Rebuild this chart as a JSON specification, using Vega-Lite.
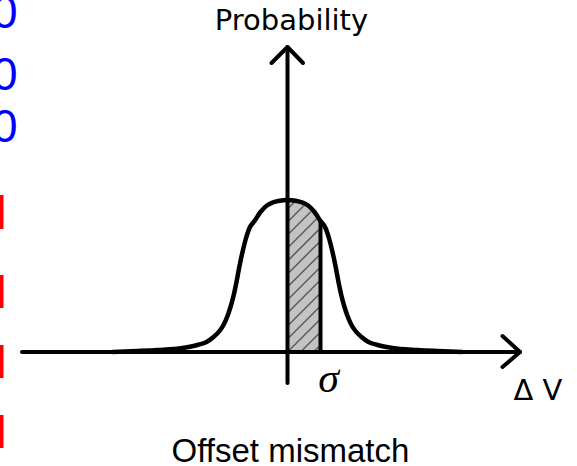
{
  "$schema": "https://vega.github.io/schema/vega-lite/v6.json",
  "width": 577,
  "height": 466,
  "autosize": {"type": "none"},
  "padding": 0,
  "background": "white",
  "config": {"view": {"stroke": null}},
  "datasets": {
    "curve": [
      {"x": -175, "y": 0}, {"x": -150, "y": 1}, {"x": -130, "y": 2}, {"x": -105, "y": 4},
      {"x": -90, "y": 7}, {"x": -81, "y": 10}, {"x": -74, "y": 15}, {"x": -68, "y": 21},
      {"x": -64, "y": 27}, {"x": -60, "y": 36}, {"x": -57, "y": 45}, {"x": -54, "y": 56},
      {"x": -51, "y": 70}, {"x": -48, "y": 86}, {"x": -45, "y": 100}, {"x": -42, "y": 112},
      {"x": -38, "y": 124}, {"x": -33, "y": 131}, {"x": -27, "y": 140}, {"x": -20, "y": 147},
      {"x": -15, "y": 149.5}, {"x": -8, "y": 151.3}, {"x": 0, "y": 152},
      {"x": 8, "y": 151.3}, {"x": 15, "y": 149.5}, {"x": 20, "y": 147}, {"x": 27, "y": 140},
      {"x": 33, "y": 131}, {"x": 38, "y": 124}, {"x": 42, "y": 112}, {"x": 45, "y": 100},
      {"x": 48, "y": 86}, {"x": 51, "y": 70}, {"x": 54, "y": 56}, {"x": 57, "y": 45},
      {"x": 60, "y": 36}, {"x": 64, "y": 27}, {"x": 68, "y": 21}, {"x": 74, "y": 15},
      {"x": 81, "y": 10}, {"x": 90, "y": 7}, {"x": 105, "y": 4}, {"x": 130, "y": 2},
      {"x": 150, "y": 1}, {"x": 175, "y": 0}
    ],
    "hatch": [
      {"x": 26, "y": 0, "x2": 33, "y2": 7},
      {"x": 13, "y": 0, "x2": 33, "y2": 20},
      {"x": 0, "y": 0, "x2": 33, "y2": 33},
      {"x": 0, "y": 13, "x2": 33, "y2": 46},
      {"x": 0, "y": 26, "x2": 33, "y2": 59},
      {"x": 0, "y": 39, "x2": 33, "y2": 72},
      {"x": 0, "y": 52, "x2": 33, "y2": 85},
      {"x": 0, "y": 65, "x2": 33, "y2": 98},
      {"x": 0, "y": 78, "x2": 33, "y2": 111},
      {"x": 0, "y": 91, "x2": 33, "y2": 124},
      {"x": 0, "y": 104, "x2": 29, "y2": 133},
      {"x": 0, "y": 117, "x2": 23, "y2": 140},
      {"x": 0, "y": 130, "x2": 16, "y2": 146},
      {"x": 0, "y": 143, "x2": 7, "y2": 150}
    ],
    "lines": [
      {"g": "h", "o": 1, "x": -265.5, "y": 0},
      {"g": "h", "o": 2, "x": 232.5, "y": 0},
      {"g": "ha", "o": 1, "x": 215, "y": 16},
      {"g": "ha", "o": 2, "x": 232.5, "y": 0},
      {"g": "ha", "o": 3, "x": 215, "y": -15},
      {"g": "v", "o": 1, "x": 0, "y": -31},
      {"g": "v", "o": 2, "x": 0, "y": 305},
      {"g": "va", "o": 1, "x": -16, "y": 289},
      {"g": "va", "o": 2, "x": 0, "y": 305},
      {"g": "va", "o": 3, "x": 15.5, "y": 289}
    ]
  },
  "layer": [
    {
      "data": {"name": "curve"},
      "transform": [{"filter": "datum.x >= 0 && datum.x <= 33"}],
      "mark": {"type": "area", "interpolate": "monotone", "color": "#c3c3c3"},
      "encoding": {
        "x": {"field": "x", "type": "quantitative", "scale": {"domain": [-287.5, 289.5], "nice": false, "zero": false}, "axis": null},
        "y": {"field": "y", "type": "quantitative", "scale": {"domain": [-114, 352], "nice": false, "zero": false}, "axis": null},
        "y2": {"datum": 0}
      }
    },
    {
      "data": {"name": "hatch"},
      "mark": {"type": "rule", "stroke": "#5a5a5a", "strokeWidth": 1.5},
      "encoding": {
        "x": {"field": "x", "type": "quantitative"},
        "y": {"field": "y", "type": "quantitative"},
        "x2": {"field": "x2"},
        "y2": {"field": "y2"}
      }
    },
    {
      "data": {"values": [{"x": 33, "y": 0, "y2": 131}]},
      "mark": {"type": "rule", "stroke": "black", "strokeWidth": 4},
      "encoding": {
        "x": {"field": "x", "type": "quantitative"},
        "y": {"field": "y", "type": "quantitative"},
        "y2": {"field": "y2"}
      }
    },
    {
      "data": {"name": "curve"},
      "mark": {"type": "line", "interpolate": "monotone", "stroke": "black", "strokeWidth": 4.5},
      "encoding": {
        "x": {"field": "x", "type": "quantitative"},
        "y": {"field": "y", "type": "quantitative"},
        "order": {"field": "x"}
      }
    },
    {
      "data": {"name": "lines"},
      "mark": {"type": "line", "stroke": "black", "strokeWidth": 4, "strokeCap": "round", "strokeJoin": "round"},
      "encoding": {
        "x": {"field": "x", "type": "quantitative"},
        "y": {"field": "y", "type": "quantitative"},
        "detail": {"field": "g"},
        "order": {"field": "o"}
      }
    },
    {
      "data": {"values": [
        {"x": -286, "y": 157, "y2": 123},
        {"x": -286, "y": 77, "y2": 44},
        {"x": -286, "y": 7, "y2": -26},
        {"x": -286, "y": -63, "y2": -96}
      ]},
      "mark": {"type": "rule", "stroke": "#ff0000", "strokeWidth": 4},
      "encoding": {
        "x": {"field": "x", "type": "quantitative"},
        "y": {"field": "y", "type": "quantitative"},
        "y2": {"field": "y2"}
      }
    },
    {
      "data": {"values": [
        {"t": "0", "x": -270, "y": 324},
        {"t": "0", "x": -270, "y": 262},
        {"t": "0", "x": -270, "y": 210}
      ]},
      "mark": {"type": "text", "align": "right", "baseline": "alphabetic", "font": "Liberation Sans", "fontSize": 46, "color": "#0000ff"},
      "encoding": {
        "x": {"field": "x", "type": "quantitative"},
        "y": {"field": "y", "type": "quantitative"},
        "text": {"field": "t"}
      }
    },
    {
      "data": {"values": [{"t": "Probability", "x": 4, "y": 322}]},
      "mark": {"type": "text", "align": "center", "baseline": "alphabetic", "font": "DejaVu Sans", "fontSize": 29, "color": "black"},
      "encoding": {
        "x": {"field": "x", "type": "quantitative"},
        "y": {"field": "y", "type": "quantitative"},
        "text": {"field": "t"}
      }
    },
    {
      "data": {"values": [{"t": "Offset mismatch", "x": 3, "y": -109.5}]},
      "mark": {"type": "text", "align": "center", "baseline": "alphabetic", "font": "Liberation Sans", "fontSize": 33, "color": "black"},
      "encoding": {
        "x": {"field": "x", "type": "quantitative"},
        "y": {"field": "y", "type": "quantitative"},
        "text": {"field": "t"}
      }
    },
    {
      "data": {"values": [{"t": "Δ V", "x": 250.5, "y": -48}]},
      "mark": {"type": "text", "align": "center", "baseline": "alphabetic", "font": "DejaVu Sans", "fontSize": 29, "color": "black"},
      "encoding": {
        "x": {"field": "x", "type": "quantitative"},
        "y": {"field": "y", "type": "quantitative"},
        "text": {"field": "t"}
      }
    },
    {
      "data": {"values": [{"t": "σ", "x": 41, "y": -40}]},
      "mark": {"type": "text", "align": "center", "baseline": "alphabetic", "font": "Liberation Serif", "fontStyle": "italic", "fontSize": 42, "color": "black"},
      "encoding": {
        "x": {"field": "x", "type": "quantitative"},
        "y": {"field": "y", "type": "quantitative"},
        "text": {"field": "t"}
      }
    }
  ]
}
